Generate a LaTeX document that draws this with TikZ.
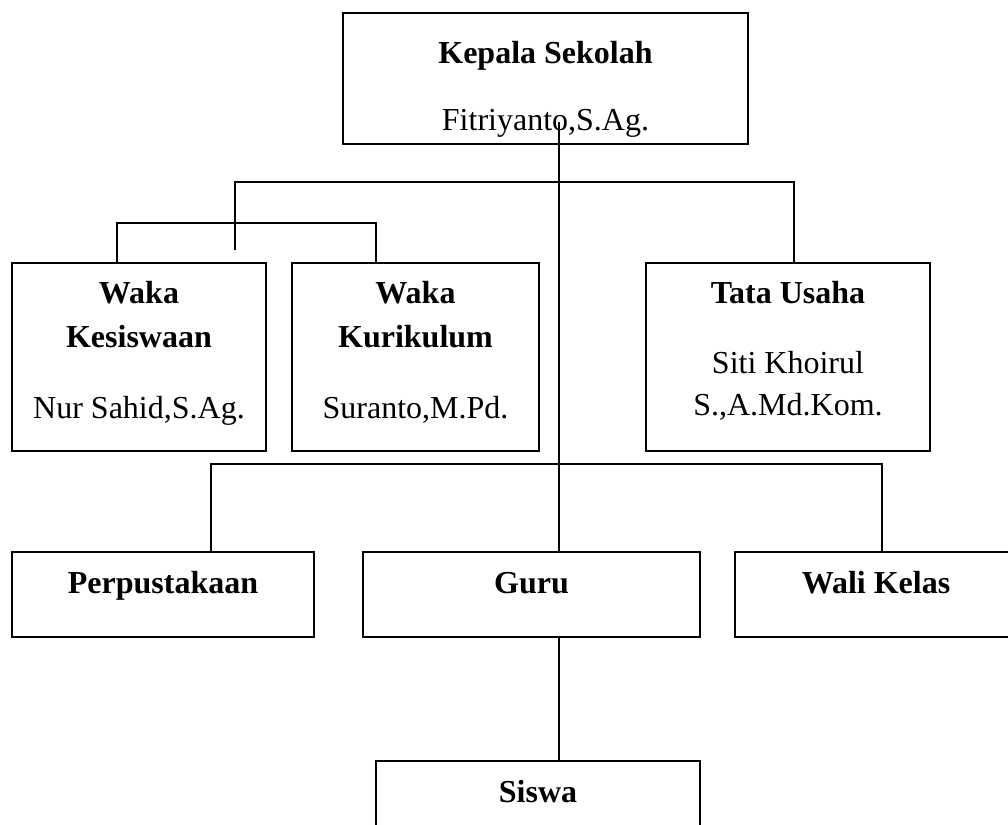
\documentclass[tikz,border=0pt]{standalone}
\usepackage{fontspec}
\setmainfont{Liberation Serif}
\begin{document}
\begin{tikzpicture}[x=0.75pt,y=-0.75pt,
  box/.style={draw,line width=1.5pt,inner sep=0pt},
  lbl/.style={anchor=base,inner sep=0pt,font=\fontsize{24pt}{28pt}\selectfont},
  hd/.style={lbl,font=\fontsize{24pt}{28pt}\selectfont\bfseries},
  conn/.style={line width=1.5pt}]
\useasboundingbox (0,0) rectangle (1008,825);
\clip (0,0) rectangle (1008,825);
% boxes
\node[box,minimum width=303.75pt,minimum height=98.25pt] (kepala) at (545.5,78.5) {};
\node[box,minimum width=190.5pt,minimum height=141pt] (kesis) at (139,357) {};
\node[box,minimum width=185.25pt,minimum height=141pt] (kurik) at (415.5,357) {};
\node[box,minimum width=213pt,minimum height=141pt] (tata) at (788,357) {};
\node[box,minimum width=226.5pt,minimum height=63.75pt] (perpus) at (163,594.5) {};
\node[box,minimum width=252.75pt,minimum height=63.75pt] (guru) at (531.5,594.5) {};
\node[box,minimum width=211.5pt,minimum height=63.75pt] (wali) at (876,594.5) {};
\node[box,minimum width=243pt,minimum height=104.25pt] (siswa) at (538,830.5) {};
% texts
\node[hd] (tkepala) at (545.5,63) {Kepala Sekolah};
\node[lbl] (nkepala) at (545.5,130) {Fitriyanto,S.Ag.};
\node[hd] (tkesis1) at (139,303) {Waka};
\node[hd] (tkesis2) at (139,347) {Kesiswaan};
\node[lbl] (nkesis) at (139,418) {Nur Sahid,S.Ag.};
\node[hd] (tkurik1) at (415.5,303) {Waka};
\node[hd] (tkurik2) at (415.5,347) {Kurikulum};
\node[lbl] (nkurik) at (415.5,418) {Suranto,M.Pd.};
\node[hd] (ttata) at (788,303) {Tata Usaha};
\node[lbl] (ntata1) at (788,373) {Siti Khoirul};
\node[lbl] (ntata2) at (788,415) {S.,A.Md.Kom.};
\node[hd] (tperpus) at (163,593) {Perpustakaan};
\node[hd] (tguru) at (531.5,593) {Guru};
\node[hd] (twali) at (876,593) {Wali Kelas};
\node[hd] (tsiswa) at (538,802) {Siswa};
% connector points
\coordinate (top) at (559,122);
\coordinate (stub) at (235,250);
% connectors
\draw[conn] (top) -- (559,0 |- guru.north);
\draw[conn] (stub) -- (235,182) -- (794,182) -- (tata.north -| 794,0);
\draw[conn] (kesis.north -| 117,0) -- (117,223) -- (376,223) -- (kurik.north -| 376,0);
\draw[conn] (perpus.north -| 211,0) -- (211,464) -- (882,464) -- (wali.north -| 882,0);
\draw[conn] (guru.south -| 559,0) -- (siswa.north -| 559,0);
\end{tikzpicture}
\end{document}
